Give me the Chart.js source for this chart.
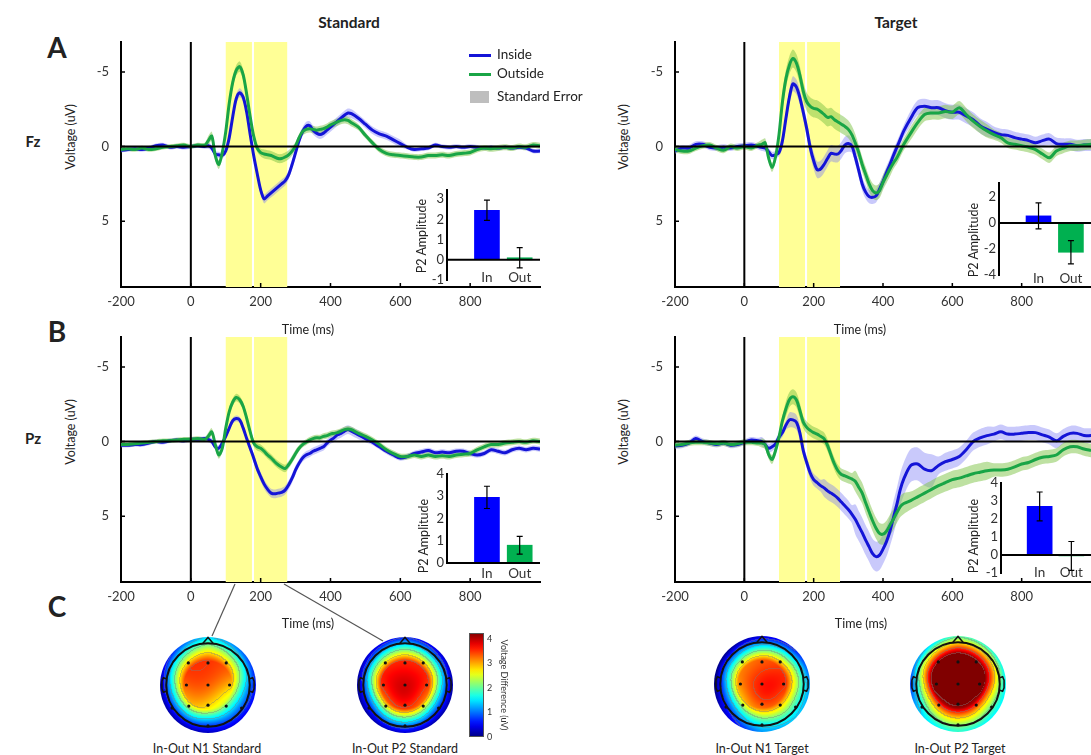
<!DOCTYPE html>
<html>
<head>
<meta charset="utf-8">
<script src="https://cdn.jsdelivr.net/npm/chart.js@4.4.1/dist/chart.umd.min.js"></script>
<style>
html, body { margin: 0; padding: 0; background: #fff; overflow: hidden; }
body { width: 1091px; height: 755px; position: relative; font-family: Lato, 'Open Sans', sans-serif; color: #222; }
canvas { position: absolute; }
.t { position: absolute; white-space: nowrap; transform: translate(-50%, -50%); }
.rot { transform: translate(-50%, -50%) rotate(-90deg); }
.b { font-weight: bold; }
</style>
</head>
<body>
<script>
// time axis (ms) shared by all ERP traces
const times = [
  -200, -180, -160, -140, -120, -100, -80, -60, -40, -20, 0, 20, 40,
  50, 60, 70, 80, 90, 100, 110, 120, 130, 140, 150, 160, 170, 180, 190, 200,
  210, 220, 230, 240, 250, 260, 270, 280, 290, 300, 310, 320, 330, 340, 350,
  360, 370, 380, 390, 400, 410, 420, 430, 440, 450, 460,
  480, 500, 520, 540, 560, 580, 600, 620, 640, 660, 680, 700, 720, 740, 760,
  780, 800, 820, 840, 860, 880, 900, 920, 940, 960, 980, 1000
];
const timeTicks = [-200, 0, 200, 400, 600, 800];
const voltTicks = [-5, 0, 5];
const windowsMs = [[100, 175], [181, 276]];

// Fz - Standard
const fzStdInside = [
  0.25, 0.2, 0.15, 0.2, 0.1, -0.05, -0.1, 0.05, 0, 0.05, 0, -0.05, 0,
  -0.05, 0.1, 0.5, 0.55, 0.6, 0.3,
  -0.6, -2.0, -3.2, -3.6, -3.3, -2.3, -0.8, 0.6, 1.8, 2.9,
  3.5, 3.3, 3.1, 2.9, 2.7, 2.5, 2.3, 1.9, 1.2, 0.4,
  -0.4, -1.0, -1.35, -1.4, -1.1, -0.9, -0.8, -0.9, -1.1, -1.3,
  -1.5, -1.7, -1.9, -2.1, -2.25, -2.2,
  -1.9, -1.5, -1.1, -0.85, -0.7, -0.45, -0.2, 0.05, 0.2, 0.15, 0.1, -0.1, 0, 0.05,
  0, 0.05, 0, 0.05, 0.1, 0.05, 0.1, 0.05, 0.1, 0.05, 0.1, 0.3, 0.3
];
const fzStdOutside = [
  0.2, 0.15, 0.2, 0.1, 0.2, 0.15, 0.05, 0, -0.05, -0.1, 0, -0.1, -0.1,
  -0.4, -0.7, 0.6, 1.2, 0.4, -1.0,
  -2.9, -4.3, -5.1, -5.35, -4.8, -3.5, -2.0, -0.7, 0.1, 0.4,
  0.5, 0.55, 0.6, 0.7, 0.8, 0.8, 0.7, 0.55, 0.3, -0.05,
  -0.6, -1.0, -1.15, -1.2, -1.15, -1.1, -1.15, -1.2, -1.3, -1.45,
  -1.55, -1.65, -1.75, -1.8, -1.75, -1.6,
  -1.3, -0.75, -0.25, 0.2, 0.45, 0.55, 0.6, 0.65, 0.7, 0.7, 0.6, 0.6, 0.55, 0.6,
  0.5, 0.45, 0.4, 0.2, 0.1, 0.15, 0.1, 0.05, 0.1, 0, 0.05, -0.1, -0.05
];
const fzStdInsideSE = [
  .15, .15, .15, .15, .15, .15, .15, .15, .15, .15, .15, .15, .15,
  .2, .2, .2, .2, .2, .2,
  .25, .25, .3, .3, .3, .3, .25, .25, .25, .25,
  .3, .3, .3, .3, .3, .3, .3, .3, .3, .3,
  .3, .3, .3, .3, .3, .3, .3, .3, .3, .3,
  .3, .3, .3, .3, .3, .3,
  .25, .25, .25, .25, .25, .25, .25, .15, .15, .15, .15, .15, .15, .15,
  .15, .15, .15, .15, .15, .15, .15, .15, .15, .15, .15, .15, .15
];
const fzStdOutsideSE = [
  .15, .15, .15, .15, .15, .15, .15, .15, .15, .15, .15, .15, .15,
  .3, .3, .3, .3, .3, .3,
  .35, .35, .35, .35, .35, .35, .25, .25, .25, .25,
  .3, .3, .3, .3, .3, .3, .3, .3, .3, .25,
  .25, .25, .25, .25, .25, .25, .25, .25, .25, .25,
  .25, .25, .25, .25, .25, .25,
  .2, .2, .2, .2, .2, .2, .2, .2, .2, .2, .2, .2, .2, .2,
  .2, .2, .2, .2, .2, .2, .2, .2, .2, .2, .2, .2, .2
];

// Fz - Target
const fzTgtInside = [
  0.3, 0.1, 0.1, -0.15, -0.15, 0.05, 0.1, 0.05, 0.1, 0, -0.05, -0.1, 0,
  0.05, 0.1, 0.35, 0.6, 0.55, 0.4,
  -0.4, -1.9, -3.3, -4.2, -4.0, -3.3, -2.3, -1.2, 0.05, 0.95,
  1.55, 1.5, 1.2, 0.8, 0.45, 0.5, 0.5, 0.25, -0.1, -0.2,
  -0.05, 0.7, 1.6, 2.5, 3.05, 3.35, 3.4, 3.3, 2.85, 2.35,
  1.75, 1.2, 0.6, 0.05, -0.5, -1.05,
  -1.9, -2.6, -2.7, -2.6, -2.6, -2.4, -2.3, -2.3, -2.05, -1.8, -1.4, -1.15, -0.95, -0.8,
  -0.75, -0.6, -0.5, -0.4, -0.25, -0.4, -0.5, -0.2, -0.15, -0.15, -0.05, -0.1, -0.1
];
const fzTgtOutside = [
  0.2, 0.3, 0.3, 0.1, -0.05, -0.1, 0.1, 0.25, 0, 0.1, 0, 0.1, -0.1,
  -0.15, -0.25, 0.75, 1.4, 0.7, -0.8,
  -3.0, -4.55, -5.45, -5.9, -5.6, -4.8, -3.7, -3.0, -2.7, -2.55,
  -2.5, -2.35, -2.15, -1.95, -2.0, -1.8, -1.65, -1.5, -1.35, -1.15,
  -0.8, -0.25, 0.4, 1.2, 1.85, 2.5, 2.95, 3.1, 2.95, 2.4,
  1.95, 1.5, 1.1, 0.75, 0.3, -0.15,
  -0.9, -1.6, -2.15, -2.25, -2.25, -2.35, -2.3, -2.6, -2.15, -1.7, -1.35, -1.05, -0.8, -0.6,
  -0.25, -0.15, -0.05, 0.05, 0.2, 0.5, 0.75, 0.3, 0.1, -0.05, -0.05, -0.1, -0.15
];
const fzTgtInsideSE = [
  .2, .2, .2, .2, .2, .2, .2, .2, .2, .2, .2, .2, .2,
  .25, .25, .25, .25, .25, .25,
  .5, .5, .5, .5, .5, .5, .5, .55, .55, .55,
  .55, .55, .55, .55, .55, .55, .55, .55, .55, .55,
  .45, .45, .45, .45, .45, .45, .45, .45, .45, .45,
  .45, .4, .4, .4, .4, .4,
  .5, .5, .5, .5, .5, .5, .5, .5, .5, .5, .5, .5, .4, .4,
  .4, .4, .4, .4, .4, .4, .4, .4, .4, .4, .4, .4, .4
];
const fzTgtOutsideSE = [
  .2, .2, .2, .2, .2, .2, .2, .2, .2, .2, .2, .2, .2,
  .3, .3, .3, .3, .3, .3,
  .6, .6, .6, .6, .6, .6, .6, .6, .6, .6,
  .6, .6, .6, .6, .6, .6, .6, .6, .6, .6,
  .6, .6, .5, .5, .5, .5, .5, .5, .5, .5,
  .5, .5, .4, .4, .4, .4,
  .45, .45, .45, .45, .45, .45, .45, .45, .45, .45, .45, .45, .35, .35,
  .35, .35, .35, .35, .35, .35, .35, .35, .35, .35, .35, .35, .35
];

// Pz - Standard
const pzStdInside = [
  0.25, 0.25, 0.2, 0.2, 0.1, 0, 0.05, -0.05, -0.1, -0.05, -0.15, -0.15, -0.2,
  -0.15, 0, 0.35, 0.45, 0.1, -0.35,
  -0.9, -1.4, -1.55, -1.45, -0.9, -0.2, 0.45, 1.1, 1.8, 2.35,
  2.85, 3.2, 3.45, 3.5, 3.45, 3.4, 3.25, 2.9, 2.45, 1.9,
  1.45, 1.1, 0.9, 0.8, 0.65, 0.55, 0.45, 0.35, 0.1, -0.1,
  -0.25, -0.45, -0.55, -0.7, -0.8, -0.7,
  -0.45, -0.2, 0.05, 0.35, 0.65, 0.9, 1.1, 1.0, 0.8, 0.7, 0.6, 0.75, 0.7, 0.75,
  0.65, 0.65, 0.8, 0.9, 0.8, 0.55, 0.65, 0.75, 0.55, 0.45, 0.55, 0.45, 0.5
];
const pzStdOutside = [
  0.2, 0.2, 0.15, 0.1, 0.05, 0, -0.05, -0.05, -0.1, -0.15, -0.15, -0.2, -0.15,
  -0.35, -0.65, 0.2, 0.9, 0.45, -0.9,
  -2.0, -2.65, -2.95, -2.8, -2.35, -1.55, -0.65, 0.1, 0.35, 0.45,
  0.65, 0.9, 1.1, 1.35, 1.55, 1.7, 1.8, 1.55, 1.2, 0.8,
  0.45, 0.2, 0.05, -0.1, -0.2, -0.25, -0.25, -0.35, -0.4, -0.5,
  -0.55, -0.6, -0.7, -0.8, -0.85, -0.8,
  -0.55, -0.35, -0.1, 0.2, 0.55, 0.8, 1.0, 1.0, 0.9, 1.0, 0.9, 1.0, 0.95, 1.0,
  0.9, 0.85, 0.8, 0.55, 0.35, 0.2, 0.2, 0.1, 0.05, 0, 0.05, -0.05, 0
];
const pzStdInsideSE = [
  .15, .15, .15, .15, .15, .15, .15, .15, .15, .15, .15, .15, .15,
  .2, .2, .2, .2, .2, .2,
  .2, .2, .2, .2, .2, .2, .2, .3, .3, .3,
  .3, .3, .3, .3, .3, .3, .3, .3, .3, .3,
  .25, .25, .25, .25, .25, .25, .25, .25, .25, .25,
  .3, .3, .3, .3, .3, .3,
  .3, .25, .18, .18, .18, .18, .18, .18, .18, .18, .18, .18, .18, .18,
  .18, .18, .18, .18, .18, .18, .18, .18, .18, .18, .18, .18, .18
];
const pzStdOutsideSE = [
  .15, .15, .15, .15, .15, .15, .15, .15, .15, .15, .15, .15, .15,
  .25, .25, .25, .25, .25, .25,
  .25, .25, .25, .25, .25, .25, .25, .25, .25, .25,
  .25, .25, .25, .25, .25, .25, .25, .25, .25, .25,
  .2, .2, .2, .2, .2, .2, .2, .2, .2, .2,
  .2, .2, .2, .2, .2, .2,
  .2, .2, .2, .2, .2, .2, .2, .2, .2, .2, .2, .2, .2, .2,
  .2, .2, .2, .2, .2, .2, .2, .2, .2, .2, .2, .2, .2
];

// Pz - Target
const pzTgtInside = [
  0.3, 0.25, 0.1, -0.2, 0, 0.1, 0.2, 0.1, 0.25, 0.2, 0.05, -0.1, -0.05,
  0, 0.2, 0.45, 0.35, 0.15, -0.3,
  -0.6, -1.1, -1.45, -1.45, -1.3, -0.6, 0.6, 1.4, 2.1, 2.55,
  2.75, 2.95, 3.1, 3.3, 3.45, 3.6, 3.8, 4.05, 4.3, 4.55,
  4.85, 5.2, 5.65, 6.1, 6.6, 7.05, 7.5, 7.7, 7.6, 7.2,
  6.7, 6.0, 5.1, 4.2, 3.2, 2.5,
  1.6, 1.5, 1.85, 1.95, 1.6, 1.35, 1.2, 1.0, 0.55, 0, -0.25, -0.4, -0.5, -0.65,
  -0.5, -0.5, -0.55, -0.6, -0.6, -0.45, -0.3, -0.05, -0.35, -0.55, -0.55, -0.4, -0.4
];
const pzTgtOutside = [
  0.25, 0.2, 0.1, 0.05, 0.05, 0.1, 0.15, 0.1, 0.2, 0.15, 0.05, 0.05, 0.1,
  0.1, 0.2, 0.85, 1.2, 0.6, -0.3,
  -1.4, -2.2, -2.8, -3.0, -2.8, -2.1, -1.3, -0.95, -0.75, -0.6,
  -0.5, -0.35, -0.2, 0.25, 0.9, 1.5, 1.95, 2.2, 2.3, 2.4,
  2.5, 2.65, 3.05, 3.45, 4.1, 4.7, 5.3, 5.8, 6.15, 6.2,
  6.0, 5.6, 5.2, 4.75, 4.35, 4.15,
  3.95, 3.7, 3.45, 3.2, 2.95, 2.75, 2.55, 2.45, 2.3, 2.15, 2.05, 1.95, 1.9, 1.9,
  1.85, 1.7, 1.5, 1.4, 1.2, 1.05, 1.0, 0.9, 0.55, 0.35, 0.35, 0.5, 0.6
];
const pzTgtInsideSE = [
  .2, .2, .2, .2, .2, .2, .2, .2, .2, .2, .2, .2, .2,
  .3, .3, .3, .3, .3, .3,
  .3, .3, .5, .5, .5, .5, .4, .4, .4, .4,
  .4, .4, .6, .6, .6, .6, .6, .6, .6, .6,
  .6, 1.0, 1.0, 1.0, 1.0, 1.0, 1.0, 1.0, 1.0, 1.0,
  1.0, 1.0, 1.1, 1.1, 1.1, 1.1,
  1.1, 1.1, 1.1, 1.1, .6, .6, .6, .6, .6, .6, .6, .6, .5, .5,
  .5, .5, .5, .5, .5, .5, .5, .5, .5, .5, .5, .5, .5
];
const pzTgtOutsideSE = [
  .2, .2, .2, .2, .2, .2, .2, .2, .2, .2, .2, .2, .2,
  .3, .3, .3, .3, .3, .3,
  .3, .5, .5, .5, .5, .5, .4, .4, .4, .4,
  .4, .4, .4, .4, .4, .4, .4, .4, .4, .4,
  .4, .7, .7, .7, .7, .7, .7, .7, .7, .7,
  .7, .7, .7, .7, .7, .7,
  .6, .6, .6, .6, .6, .6, .6, .6, .6, .6, .6, .6, .45, .45,
  .45, .45, .45, .45, .45, .45, .45, .45, .45, .45, .45, .45, .45
];

// P2 amplitude insets
const barLabels = ['In', 'Out'];
const barPos = [1, 2];
const fzStdBars = [2.45, 0.1], fzStdErr = [0.5, 0.5];
const fzTgtBars = [0.55, -2.25], fzTgtErr = [1.0, 0.9];
const pzStdBars = [2.95, 0.8], pzStdErr = [0.5, 0.4];
const pzTgtBars = [2.7, -0.05], pzTgtErr = [0.8, 0.8];

// topographies (In - Out difference, uV)
const electrodeX = [-0.41, 0, 0.38, -0.45, 0, 0.45, -0.40, 0, 0.38, -0.75, 0.70, 0];
const electrodeY = [0.46, 0.46, 0.46, 0, 0, 0, -0.44, -0.42, -0.44, -0.48, -0.48, -0.85];
const n1Std = [3.5, 3.6, 3.4, 3.5, 3.6, 3.1, 3.3, 3.3, 2.2, 1.8, 1.3, 1.2];
const p2Std = [3.3, 3.5, 3.3, 3.8, 4.5, 3.7, 3.2, 4.6, 3.2, 1.4, 1.4, 1.8];
const n1Tgt = [2.9, 3.3, 3.2, 3.2, 4.1, 3.9, 3.0, 4.1, 3.5, 1.0, 1.9, 1.7];
const p2Tgt = [5.0, 5.2, 5.0, 4.9, 5.3, 5.0, 3.8, 5.1, 3.9, 1.9, 2.1, 2.5];
// scalp edge values at 0,45,...,315 degrees (counter-clockwise from right)
const n1StdRim = [0.6, 1.0, 1.5, 0.8, 0.2, 0.2, 0.3, 0.5];
const p2StdRim = [0.2, 0.4, 0.7, 0.4, 0.1, 0.2, 0.4, 0.2];
const n1TgtRim = [1.2, 0.7, 0.4, 0.1, 0.0, 0.4, 1.2, 1.4];
const p2TgtRim = [1.6, 1.8, 2.0, 1.4, 0.8, 1.5, 1.8, 1.6];
const cbarMax = 4.25;
const cbarTicks = [0, 1, 2, 3, 4];

[['fzStdInside', fzStdInside], ['fzStdOutside', fzStdOutside], ['fzTgtInside', fzTgtInside],
 ['fzTgtOutside', fzTgtOutside], ['pzStdInside', pzStdInside], ['pzStdOutside', pzStdOutside],
 ['pzTgtInside', pzTgtInside], ['pzTgtOutside', pzTgtOutside], ['fzStdInsideSE', fzStdInsideSE],
 ['fzStdOutsideSE', fzStdOutsideSE], ['fzTgtInsideSE', fzTgtInsideSE], ['fzTgtOutsideSE', fzTgtOutsideSE],
 ['pzStdInsideSE', pzStdInsideSE], ['pzStdOutsideSE', pzStdOutsideSE], ['pzTgtInsideSE', pzTgtInsideSE],
 ['pzTgtOutsideSE', pzTgtOutsideSE]].forEach(([n, a]) => {
  if (a.length !== times.length) throw new Error(n + ' has ' + a.length + ' values, expected ' + times.length);
});

const blue = 'rgb(20,20,215)';
const green = 'rgb(25,165,70)';
const blueBand = 'rgba(120,120,245,0.4)';
const greenBand = 'rgba(125,195,70,0.5)';
const barBlue = 'rgb(0,0,255)';
const barGreen = 'rgb(0,176,80)';

Chart.defaults.font.family = "Lato, 'Open Sans', sans-serif";
Chart.defaults.color = '#333';
Chart.defaults.plugins.legend.display = false;
Chart.defaults.plugins.tooltip.enabled = false;

function mk(l, t, w, h) {
  const c = document.createElement('canvas');
  c.width = w; c.height = h;
  c.style.left = l + 'px'; c.style.top = t + 'px';
  c.style.width = w + 'px'; c.style.height = h + 'px';
  document.body.appendChild(c);
  return c;
}

function band(vals, se, sign) {
  return times.map((t, i) => ({ x: t, y: vals[i] + (se ? sign * se[i] : 0) }));
}

const erpPlugin = {
  id: 'erp',
  beforeDatasetsDraw(chart) {
    const { ctx, chartArea: a, scales: { x } } = chart;
    ctx.save();
    ctx.fillStyle = 'rgb(255,255,150)';
    windowsMs.forEach(([s, e]) => {
      const x0 = x.getPixelForValue(s), x1 = x.getPixelForValue(e);
      ctx.fillRect(x0, a.top, x1 - x0, a.bottom - a.top);
    });
    ctx.restore();
  },
  afterDatasetsDraw(chart) {
    const { ctx, chartArea: a, scales: { x, y } } = chart;
    ctx.save();
    ctx.strokeStyle = '#000';
    ctx.lineWidth = 2;
    const y0 = y.getPixelForValue(0), x0 = x.getPixelForValue(0);
    ctx.beginPath();
    ctx.moveTo(a.left, y0); ctx.lineTo(a.right, y0);
    ctx.moveTo(x0, a.top); ctx.lineTo(x0, a.bottom);
    ctx.stroke();
    ctx.lineWidth = 1.5;
    ctx.beginPath();
    timeTicks.forEach(t => { const p = x.getPixelForValue(t); ctx.moveTo(p, a.bottom); ctx.lineTo(p, a.bottom - 4); });
    voltTicks.forEach(v => { const p = y.getPixelForValue(v); ctx.moveTo(a.left, p); ctx.lineTo(a.left + 4, p); });
    ctx.stroke();
    ctx.restore();
  }
};

function erpChart(area, inside, outside, seIn, seOut) {
  const pL = 40, pR = 6, pT = 6, pB = 40;
  const cv = mk(area.l - pL, area.t - pT, area.r - area.l + pL + pR, area.b - area.t + pT + pB);
  const thin = { borderColor: 'transparent', borderWidth: 0, pointRadius: 0, tension: 0.3 };
  return new Chart(cv, {
    type: 'line',
    data: {
      datasets: [
        { ...thin, data: band(inside, seIn, -1), fill: false, order: 5 },
        { ...thin, data: band(inside, seIn, 1), fill: '-1', backgroundColor: blueBand, order: 4 },
        { ...thin, data: band(outside, seOut, -1), fill: false, order: 3 },
        { ...thin, data: band(outside, seOut, 1), fill: '-1', backgroundColor: greenBand, order: 2 },
        { label: 'Inside', data: band(inside, null, 0), borderColor: blue, borderWidth: 3, pointRadius: 0, tension: 0.3, fill: false, order: 1 },
        { label: 'Outside', data: band(outside, null, 0), borderColor: green, borderWidth: 3, pointRadius: 0, tension: 0.3, fill: false, order: 0 }
      ]
    },
    options: {
      responsive: false, animation: false, devicePixelRatio: 1,
      layout: { padding: { top: pT, right: pR, left: 0, bottom: 0 } },
      scales: {
        x: {
          type: 'linear', min: -200, max: 1000,
          afterBuildTicks: s => { s.ticks = timeTicks.map(v => ({ value: v })); },
          afterFit: s => { s.height = pB; s.paddingLeft = 0; s.paddingRight = 0; },
          grid: { display: false, drawTicks: false },
          border: { display: true, color: '#000', width: 2 },
          ticks: { padding: 7, maxRotation: 0, autoSkip: false, font: { size: 13 }, color: '#333' }
        },
        y: {
          type: 'linear', reverse: true, min: -7, max: 9.4,
          afterBuildTicks: s => { s.ticks = voltTicks.map(v => ({ value: v })); },
          afterFit: s => { s.width = pL; s.paddingTop = 0; s.paddingBottom = 0; },
          grid: { display: false, drawTicks: false },
          border: { display: true, color: '#000', width: 2 },
          ticks: { padding: 12, autoSkip: false, font: { size: 13 }, color: '#333' }
        }
      }
    },
    plugins: [erpPlugin]
  });
}

const insetPlugin = {
  id: 'inset',
  afterDatasetsDraw(chart, args, opts) {
    const { ctx, chartArea: a, scales: { x, y } } = chart;
    ctx.save();
    ctx.strokeStyle = '#000';
    ctx.lineWidth = 2;
    const y0 = y.getPixelForValue(0);
    ctx.beginPath(); ctx.moveTo(a.left, y0); ctx.lineTo(a.right, y0); ctx.stroke();
    ctx.lineWidth = 1.2;
    ctx.beginPath();
    barPos.forEach((p, i) => {
      const px = x.getPixelForValue(p);
      const yt = y.getPixelForValue(opts.vals[i] + opts.errs[i]);
      const yb = y.getPixelForValue(opts.vals[i] - opts.errs[i]);
      ctx.moveTo(px, yt); ctx.lineTo(px, yb);
      ctx.moveTo(px - 3, yt); ctx.lineTo(px + 3, yt);
      ctx.moveTo(px - 3, yb); ctx.lineTo(px + 3, yb);
    });
    ctx.stroke();
    ctx.restore();
  }
};

// labelY: where the In/Out labels sit (page pixels)
function insetChart(area, yMin, yMax, yTicks, labelY, vals, errs) {
  const pL = 24, pR = 4, pT = 8, pB = 22;
  const cv = mk(area.l - pL, area.t - pT, area.r - area.l + pL + pR, area.b - area.t + pT + pB);
  return new Chart(cv, {
    type: 'bar',
    data: {
      datasets: [{
        data: barPos.map((p, i) => ({ x: p, y: vals[i] })),
        backgroundColor: [barBlue, barGreen],
        barThickness: 25
      }]
    },
    options: {
      responsive: false, animation: false, devicePixelRatio: 1,
      layout: { padding: { top: pT, right: pR, left: 0, bottom: 0 } },
      scales: {
        x: {
          type: 'linear', min: -0.22, max: 2.62, offset: false,
          afterBuildTicks: s => { s.ticks = barPos.map(v => ({ value: v })); },
          afterFit: s => { s.height = pB; s.paddingLeft = 0; s.paddingRight = 0; },
          grid: { display: false, drawTicks: false },
          border: { display: false },
          ticks: {
            callback: v => barLabels[barPos.indexOf(v)], mirror: true,
            padding: area.b - labelY - 8, font: { size: 13.5 }, color: '#333', maxRotation: 0, autoSkip: false
          }
        },
        y: {
          min: yMin, max: yMax,
          afterBuildTicks: s => { s.ticks = yTicks.map(v => ({ value: v })); },
          afterFit: s => { s.width = pL; s.paddingTop = 0; s.paddingBottom = 0; },
          grid: { display: false, drawTicks: false },
          border: { display: true, color: '#000', width: 2 },
          ticks: { padding: 3, autoSkip: false, font: { size: 13 }, color: '#333' }
        }
      },
      plugins: { inset: { vals, errs } }
    },
    plugins: [insetPlugin]
  });
}

function jet(t) {
  const c = v => Math.max(0, Math.min(1, v));
  return [c(Math.min(4 * t - 1.5, -4 * t + 4.5)), c(Math.min(4 * t - 0.5, -4 * t + 3.5)), c(Math.min(4 * t + 0.5, -4 * t + 2.5))];
}

// interior: kernel average of electrodes; towards the edge it blends into the rim values
function scalpValue(x, y, vals, rim) {
  const s2 = 2 * 0.32 * 0.32;
  let sw = 0, sv = 0;
  for (let i = 0; i < electrodeX.length; i++) {
    const dx = x - electrodeX[i], dy = y - electrodeY[i];
    const w = Math.exp(-(dx * dx + dy * dy) / s2);
    sw += w; sv += w * vals[i];
  }
  const core = sv / sw;
  let ang = Math.atan2(y, x);
  if (ang < 0) ang += 2 * Math.PI;
  const f = ang / (Math.PI / 4), k = Math.floor(f) % 8, fr = f - Math.floor(f);
  const rv = rim[k] * (1 - fr) + rim[(k + 1) % 8] * fr;
  const s = Math.max(0, Math.min(1, (Math.hypot(x, y) - 0.5) / 0.48));
  return core * (1 - s) + rv * s;
}

const topoPlugin = {
  id: 'topo',
  beforeDatasetsDraw(chart, args, opts) {
    const { ctx, chartArea: a, scales: { x, y } } = chart;
    const w = Math.round(a.right - a.left), h = Math.round(a.bottom - a.top);
    const off = document.createElement('canvas');
    off.width = w; off.height = h;
    const octx = off.getContext('2d');
    const img = octx.createImageData(w, h);
    const v = new Float32Array(w * h), inside = new Uint8Array(w * h);
    for (let py = 0; py < h; py++) {
      for (let px = 0; px < w; px++) {
        const dx = x.getValueForPixel(a.left + px + 0.5), dy = y.getValueForPixel(a.top + py + 0.5);
        if (dx * dx + dy * dy <= 1.06) {
          v[py * w + px] = scalpValue(dx, dy, opts.vals, opts.rim);
          inside[py * w + px] = 1;
        }
      }
    }
    const step = 0.7;
    for (let py = 0; py < h; py++) {
      for (let px = 0; px < w; px++) {
        const i = py * w + px;
        if (!inside[i]) continue;
        let [r, g, b] = jet(Math.min(1, Math.max(0, v[i] / cbarMax))).map(c => c * 255);
        const lv = Math.floor(v[i] / step);
        const edge = v[i] < cbarMax && (
          (px + 1 < w && inside[i + 1] && Math.floor(v[i + 1] / step) !== lv) ||
          (py + 1 < h && inside[i + w] && Math.floor(v[i + w] / step) !== lv));
        if (edge) { r = r * 0.6 + 50; g = g * 0.6 + 50; b = b * 0.6 + 50; }
        img.data[i * 4] = r; img.data[i * 4 + 1] = g; img.data[i * 4 + 2] = b; img.data[i * 4 + 3] = 255;
      }
    }
    octx.putImageData(img, 0, 0);
    const cx = x.getPixelForValue(0), cy = y.getPixelForValue(0), R = x.getPixelForValue(1) - cx;
    ctx.save();
    ctx.beginPath(); ctx.arc(cx, cy, R, 0, 2 * Math.PI); ctx.clip();
    ctx.drawImage(off, a.left, a.top);
    ctx.restore();
  },
  afterDatasetsDraw(chart) {
    const { ctx, scales: { x, y } } = chart;
    const cx = x.getPixelForValue(0), cy = y.getPixelForValue(0);
    const hx = v => x.getPixelForValue(v), hy = v => y.getPixelForValue(v);
    ctx.save();
    ctx.strokeStyle = '#111';
    ctx.lineWidth = 2;
    ctx.beginPath(); ctx.arc(cx, cy, hx(0.87) - cx, 0, 2 * Math.PI); ctx.stroke();
    ctx.lineWidth = 1.5;
    ctx.beginPath();
    ctx.moveTo(hx(-0.11), hy(0.863)); ctx.lineTo(hx(0), hy(0.99)); ctx.lineTo(hx(0.11), hy(0.863));
    [-1, 1].forEach(s => {
      ctx.moveTo(hx(s * 0.87), hy(0.13)); ctx.lineTo(hx(s * 0.93), hy(0.15));
      ctx.lineTo(hx(s * 0.96), hy(0.08)); ctx.lineTo(hx(s * 0.96), hy(-0.08));
      ctx.lineTo(hx(s * 0.93), hy(-0.15)); ctx.lineTo(hx(s * 0.87), hy(-0.13));
    });
    ctx.stroke();
    ctx.restore();
  }
};

function topoChart(cx, cy, R, vals, rim) {
  const p = 4;
  const cv = mk(cx - R - p, cy - R - p, 2 * R + 2 * p, 2 * R + 2 * p);
  return new Chart(cv, {
    type: 'scatter',
    data: {
      datasets: [{
        data: electrodeX.map((ex, i) => ({ x: ex, y: electrodeY[i] })),
        pointRadius: 1.6, pointBackgroundColor: '#111', pointBorderWidth: 0
      }]
    },
    options: {
      responsive: false, animation: false, devicePixelRatio: 1,
      layout: { padding: p },
      scales: {
        x: { display: false, min: -1, max: 1 },
        y: { display: false, min: -1, max: 1 }
      },
      plugins: { topo: { vals, rim } }
    },
    plugins: [topoPlugin]
  });
}

const cbarPlugin = {
  id: 'cbar',
  beforeDatasetsDraw(chart) {
    const { ctx, chartArea: a, scales: { y } } = chart;
    const y0 = y.getPixelForValue(0), y1 = y.getPixelForValue(cbarMax);
    const g = ctx.createLinearGradient(0, y0, 0, y1);
    for (let i = 0; i <= 20; i++) {
      const [r, gg, b] = jet(i / 20).map(c => Math.round(c * 255));
      g.addColorStop(i / 20, `rgb(${r},${gg},${b})`);
    }
    ctx.save();
    ctx.fillStyle = g;
    ctx.fillRect(a.left, y1, a.right - a.left, y0 - y1);
    ctx.strokeStyle = '#555'; ctx.lineWidth = 1;
    ctx.strokeRect(a.left + 0.5, y1 + 0.5, a.right - a.left - 1, y0 - y1 - 1);
    ctx.restore();
  }
};

function colorbar(area) {
  const pL = 2, pT = 4, pB = 4, pR = 26;
  const cv = mk(area.l - pL, area.t - pT, area.r - area.l + pL + pR, area.b - area.t + pT + pB);
  return new Chart(cv, {
    type: 'scatter',
    data: { datasets: [] },
    options: {
      responsive: false, animation: false, devicePixelRatio: 1,
      layout: { padding: { left: pL, top: pT, bottom: pB, right: 0 } },
      scales: {
        x: { display: false, min: 0, max: 1 },
        y: {
          position: 'right', min: 0, max: cbarMax,
          afterBuildTicks: s => { s.ticks = cbarTicks.map(v => ({ value: v })); },
          afterFit: s => { s.width = pR; s.paddingTop = 0; s.paddingBottom = 0; },
          grid: { display: false, drawTicks: false },
          border: { display: false },
          ticks: { padding: 3, autoSkip: false, font: { size: 9 }, color: '#333' },
          title: { display: true, text: 'Voltage Difference (uV)', font: { size: 9 }, color: '#333', padding: 1 }
        }
      }
    },
    plugins: [cbarPlugin]
  });
}

erpChart({ l: 121, r: 540, t: 42, b: 287 }, fzStdInside, fzStdOutside, fzStdInsideSE, fzStdOutsideSE);
erpChart({ l: 675, r: 1091, t: 42, b: 287 }, fzTgtInside, fzTgtOutside, fzTgtInsideSE, fzTgtOutsideSE);
erpChart({ l: 121, r: 540, t: 337, b: 582 }, pzStdInside, pzStdOutside, pzStdInsideSE, pzStdOutsideSE);
erpChart({ l: 675, r: 1091, t: 337, b: 582 }, pzTgtInside, pzTgtOutside, pzTgtInsideSE, pzTgtOutsideSE);

insetChart({ l: 447, r: 540, t: 190, b: 280 }, -1, 3.45, [-1, 0, 1, 2, 3], 278, fzStdBars, fzStdErr);
insetChart({ l: 999, r: 1091, t: 183, b: 275 }, -4, 3.08, [-4, -2, 0, 2], 279, fzTgtBars, fzTgtErr);
insetChart({ l: 447, r: 540, t: 474, b: 563 }, 0, 4, [0, 1, 2, 3, 4], 574, pzStdBars, pzStdErr);
insetChart({ l: 1001, r: 1091, t: 483, b: 573 }, -1, 4, [-1, 0, 1, 2, 3, 4], 573, pzTgtBars, pzTgtErr);

topoChart(208, 685, 48, n1Std, n1StdRim);
topoChart(405, 685, 48, p2Std, p2StdRim);
topoChart(762, 684, 48, n1Tgt, n1TgtRim);
topoChart(958, 684, 48, p2Tgt, p2TgtRim);
colorbar({ l: 469, r: 484, t: 633, b: 737 });

// labels
const labels = [
  ['Standard', 349, 22, 15.5, 'b'], ['Target', 896, 22, 15.5, 'b'],
  ['A', 57, 47, 28, 'b'], ['B', 57, 331, 28, 'b'], ['C', 57, 606, 28, 'b'],
  ['Fz', 33, 141, 15, 'b'], ['Pz', 33, 438, 15, 'b'],
  ['Voltage (uV)', 70, 137, 12.5, 'rot'], ['Voltage (uV)', 623, 137, 12.5, 'rot'],
  ['Voltage (uV)', 70, 432, 12.5, 'rot'], ['Voltage (uV)', 623, 432, 12.5, 'rot'],
  ['Time (ms)', 308, 329, 12.5, ''], ['Time (ms)', 860, 329, 12.5, ''],
  ['Time (ms)', 308, 623, 12.5, ''], ['Time (ms)', 861, 623, 12.5, ''],
  ['P2 Amplitude', 421, 236, 12.5, 'rot'], ['P2 Amplitude', 973, 240, 12.5, 'rot'],
  ['P2 Amplitude', 423, 536, 12.5, 'rot'], ['P2 Amplitude', 973, 536, 12.5, 'rot'],
  ['In-Out N1 Standard', 207, 748, 12.5, ''], ['In-Out P2 Standard', 405, 748, 12.5, ''],
  ['In-Out N1 Target', 762, 748, 12.5, ''], ['In-Out P2 Target', 960, 748, 12.5, '']
];
labels.forEach(([txt, x, y, size, cls]) => {
  const d = document.createElement('div');
  d.className = 't ' + cls;
  d.style.left = x + 'px'; d.style.top = y + 'px'; d.style.fontSize = size + 'px';
  d.textContent = txt;
  document.body.appendChild(d);
});

// legend of the Fz standard panel
const legend = [['Inside', blue, 55, 'line'], ['Outside', green, 74, 'line'], ['Standard Error', 'rgb(190,190,190)', 97, 'box']];
legend.forEach(([txt, col, y, kind]) => {
  const m = document.createElement('div');
  m.style.position = 'absolute';
  m.style.left = '469px';
  m.style.background = col;
  if (kind === 'line') { m.style.top = (y - 1.5) + 'px'; m.style.width = '22px'; m.style.height = '3px'; }
  else { m.style.top = (y - 6) + 'px'; m.style.width = '19px'; m.style.height = '12px'; m.style.left = '470px'; }
  document.body.appendChild(m);
  const d = document.createElement('div');
  d.style.position = 'absolute'; d.style.left = '497px'; d.style.top = (y - 9) + 'px';
  d.style.fontSize = '13.5px'; d.style.whiteSpace = 'nowrap';
  d.textContent = txt;
  document.body.appendChild(d);
});

// connectors from the time windows to the maps
const svgNS = 'http://www.w3.org/2000/svg';
const svg = document.createElementNS(svgNS, 'svg');
svg.setAttribute('width', '1091'); svg.setAttribute('height', '755');
svg.style.position = 'absolute'; svg.style.left = '0'; svg.style.top = '0';
[[235, 584, 212, 636], [284, 584, 383, 641]].forEach(([x1, y1, x2, y2]) => {
  const ln = document.createElementNS(svgNS, 'line');
  ln.setAttribute('x1', x1); ln.setAttribute('y1', y1); ln.setAttribute('x2', x2); ln.setAttribute('y2', y2);
  ln.setAttribute('stroke', '#555'); ln.setAttribute('stroke-width', '1.2');
  svg.appendChild(ln);
});
document.body.appendChild(svg);
</script>
</body>
</html>
